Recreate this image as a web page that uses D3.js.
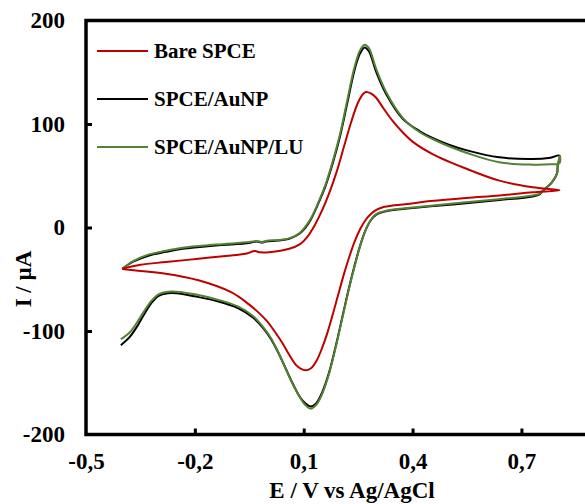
<!DOCTYPE html>
<html>
<head>
<meta charset="utf-8">
<script src="https://cdn.jsdelivr.net/npm/d3@7"></script>
<style>
  html, body { margin: 0; padding: 0; background: #fff; }
  svg { display: block; }
  text { font-family: "Liberation Serif", "Times New Roman", serif; font-weight: bold; fill: #000; }
</style>
</head>
<body>
<svg id="chart" width="585" height="504"></svg>
<script>
// Cyclic voltammograms: potential (V vs Ag/AgCl) and current (µA), in scan order.
const seriesNames = ["Bare SPCE", "SPCE/AuNP", "SPCE/AuNP/LU"];
const seriesColors = ["#c00000", "#000000", "#548235"];

const bareE = [-0.40, -0.35, -0.28, -0.19, -0.10, -0.06, -0.035, -0.02, 0.005, 0.06, 0.09, 0.11, 0.13, 0.15, 0.17, 0.19, 0.21, 0.23, 0.25, 0.265, 0.272, 0.285, 0.299, 0.32, 0.345, 0.37, 0.40, 0.455, 0.547, 0.639, 0.731, 0.805,
               0.731, 0.64, 0.547, 0.45, 0.393, 0.35, 0.318, 0.30, 0.285, 0.27, 0.255, 0.24, 0.225, 0.21, 0.195, 0.18, 0.165, 0.15, 0.135, 0.12, 0.105, 0.09, 0.079, 0.06, 0.042, 0.02, 0.0, -0.025, -0.05, -0.10, -0.19, -0.28, -0.35, -0.40];
const bareI = [-40, -36, -33.4, -30.2, -27, -25.4, -22.8, -24, -23.8, -20.5, -16, -9, 2, 16, 33, 53, 77, 101, 121, 129.5, 131, 129.5, 125.6, 115, 103, 93, 83, 71, 57, 45.3, 38.8, 36,
               34, 31, 28.6, 25.5, 23, 21.5, 19.6, 17, 13, 7, -2, -14, -29, -46, -65, -84, -102, -117, -129, -136, -138, -136, -133, -123, -112, -100.5, -91, -82, -74.5, -62.5, -51, -44.6, -42, -40];

const auE = [-0.40, -0.37, -0.326, -0.28, -0.234, -0.142, -0.05, -0.03, -0.015, -0.004, 0.03, 0.06, 0.088, 0.105, 0.12, 0.14, 0.16, 0.18, 0.20, 0.22, 0.24, 0.255, 0.268, 0.28, 0.30, 0.327, 0.373, 0.42, 0.458, 0.50, 0.55, 0.639, 0.731, 0.78, 0.805,
             0.80, 0.798, 0.784, 0.77, 0.757, 0.75, 0.731, 0.64, 0.547, 0.45, 0.393, 0.33, 0.30, 0.285, 0.27, 0.255, 0.24, 0.225, 0.21, 0.19, 0.17, 0.15, 0.134, 0.12, 0.105, 0.09, 0.07, 0.05, 0.03, 0.01, -0.01, -0.04, -0.08, -0.14, -0.20, -0.25, -0.275, -0.30, -0.32, -0.34, -0.36, -0.38, -0.404];
const auI = [-40, -33, -27, -23.5, -20.5, -17.3, -15, -13.5, -14.5, -13.5, -12.5, -10.9, -6, 0, 8, 23, 40, 62, 88, 120, 152, 168, 174, 170, 150, 129, 105, 93, 86, 80, 74.5, 67.8, 66.2, 67.5, 69.4,
             60, 52, 43.7, 38.8, 35, 32, 30, 26.5, 23.4, 20.5, 18.5, 16, 12.5, 7, -3, -18, -37, -58, -81, -112, -140, -160, -170, -173, -170, -164, -151, -136, -121, -108, -98, -87, -78, -71, -66.5, -63.5, -63.5, -66, -73, -84, -96, -106, -113.7];

const luE = [-0.40, -0.37, -0.326, -0.28, -0.234, -0.142, -0.05, -0.03, -0.015, -0.004, 0.03, 0.06, 0.088, 0.105, 0.12, 0.14, 0.16, 0.18, 0.20, 0.22, 0.24, 0.255, 0.268, 0.28, 0.30, 0.327, 0.373, 0.42, 0.458, 0.50, 0.55, 0.639, 0.731, 0.78, 0.805, 0.806,
             0.80, 0.798, 0.784, 0.77, 0.757, 0.75, 0.731, 0.64, 0.547, 0.45, 0.393, 0.33, 0.30, 0.285, 0.27, 0.255, 0.24, 0.225, 0.21, 0.19, 0.17, 0.15, 0.134, 0.118, 0.103, 0.09, 0.07, 0.05, 0.03, 0.01, -0.01, -0.04, -0.08, -0.14, -0.20, -0.25, -0.275, -0.30, -0.32, -0.34, -0.36, -0.38, -0.404];
const luI = [-40, -32.5, -26, -22.5, -19.5, -16.5, -14, -13, -14, -13, -12, -10.5, -5.5, 1, 9, 24, 41.5, 64, 90, 123, 155, 171, 176.5, 173, 153, 131, 106, 92, 85, 78.5, 72, 63, 60.7, 61, 62, 69,
             60, 52, 43.7, 38.8, 35, 32.5, 31, 27.5, 24.5, 21, 19, 16.5, 13, 7.5, -3, -18.5, -38, -59, -82, -113, -141, -161.5, -171.5, -175, -171, -164.5, -151.5, -136, -120.5, -107, -97, -85.5, -76.5, -69.5, -64.5, -62, -62, -64.5, -71, -81, -92, -101.5, -108];

const xTicks = [-0.5, -0.2, 0.1, 0.4, 0.7];
const yTicks = [-200, -100, 0, 100, 200];

const svg = d3.select("#chart");

const x = d3.scaleLinear().domain([-0.5, 0.9]).range([86, 594]);
const y = d3.scaleLinear().domain([-200, 200]).range([434.5, 20.5]);

const fmtX = v => d3.format(".1f")(v).replace(".", ",").replace("−", "-");
const fmtY = v => String(v);

// Curves (drawn beneath the frame)
const curves = [
  { E: auE, I: auI, color: seriesColors[1] },
  { E: luE, I: luI, color: seriesColors[2] },
  { E: bareE, I: bareI, color: seriesColors[0] }
];
const line = d3.line()
  .x(d => x(d[0]))
  .y(d => y(d[1]))
  .curve(d3.curveCatmullRom.alpha(0.5));

svg.append("g").selectAll("path")
  .data(curves)
  .join("path")
  .attr("d", s => line(s.E.map((e, i) => [e, s.I[i]])))
  .attr("fill", "none")
  .attr("stroke", s => s.color)
  .attr("stroke-width", 2)
  .attr("stroke-linejoin", "round");

// Axes with inward ticks
const yAxis = d3.axisLeft(y).tickValues(yTicks).tickFormat(fmtY)
  .tickSizeInner(-6).tickSizeOuter(0).tickPadding(21);
const gy = svg.append("g").attr("transform", `translate(${x(-0.5)},0)`).call(yAxis);

const xAxis = d3.axisBottom(x).tickValues(xTicks).tickFormat(fmtX)
  .tickSizeInner(-6).tickSizeOuter(0).tickPadding(18);
const gx = svg.append("g").attr("transform", `translate(0,${y(-200)})`).call(xAxis);

[gx, gy].forEach(g => {
  g.select(".domain").remove();
  g.selectAll(".tick line").attr("stroke", "#000").attr("stroke-width", 3);
  g.selectAll(".tick text")
    .style("font-family", '"Liberation Serif", "Times New Roman", serif')
    .style("font-weight", "bold")
    .style("font-size", "23px")
    .attr("fill", "#000");
});
gy.selectAll(".tick").filter(d => d === 200 || d === -200).select("line").remove();
gx.selectAll(".tick").filter(d => d === -0.5).select("line").remove();

// Plot frame
svg.append("rect")
  .attr("x", x(-0.5))
  .attr("y", y(200))
  .attr("width", x(0.9) - x(-0.5))
  .attr("height", y(-200) - y(200))
  .attr("fill", "none")
  .attr("stroke", "#000")
  .attr("stroke-width", 3.5);

// Axis titles
svg.append("text")
  .attr("x", 352)
  .attr("y", 498)
  .attr("text-anchor", "middle")
  .style("font-size", "23px")
  .text("E / V vs Ag/AgCl");

svg.append("text")
  .attr("transform", "translate(31,279) rotate(-90)")
  .attr("text-anchor", "middle")
  .style("font-size", "23px")
  .text("I / µA");

// Legend
const legend = svg.append("g");
seriesNames.forEach((name, i) => {
  const ly = 51 + i * 48;
  legend.append("line")
    .attr("x1", 97).attr("x2", 148)
    .attr("y1", ly).attr("y2", ly)
    .attr("stroke", seriesColors[i])
    .attr("stroke-width", 2);
  legend.append("text")
    .attr("x", 154)
    .attr("y", ly + 7)
    .style("font-size", "21px")
    .text(name);
});
</script>
</body>
</html>
